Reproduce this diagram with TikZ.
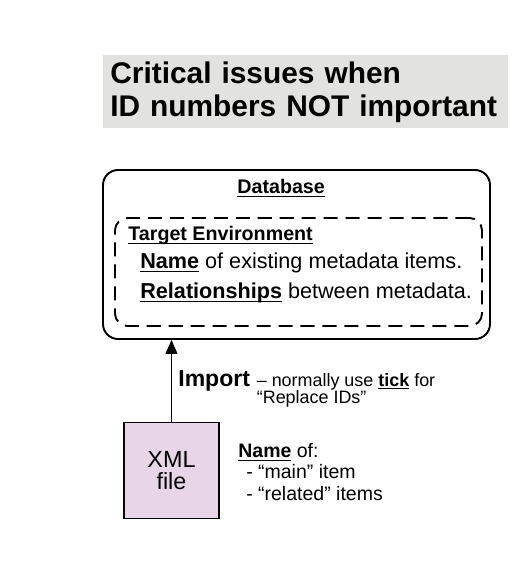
\documentclass[tikz,border=0pt]{standalone}
\usepackage{fontspec}
\setmainfont{Liberation Sans}
\usetikzlibrary{arrows.meta,positioning}
\definecolor{titlebg}{HTML}{E2E3E0}
\definecolor{xmlfill}{HTML}{E8D6E8}
\newcommand{\keyword}[1]{\underline{\smash{\textbf{#1}}}}

\begin{document}
\begin{tikzpicture}[
  dbbox/.style={draw,line width=1.1pt,rounded corners=0.3cm,minimum width=7.74cm,minimum height=3.38cm},
  envbox/.style={draw,line width=1.1pt,dash pattern=on 8pt off 4.5pt,rounded corners=0.25cm,minimum width=7.34cm,minimum height=2.16cm},
  filebox/.style={draw,line width=0.6pt,fill=xmlfill,minimum width=1.9cm,minimum height=1.92cm,align=center},
  txt/.style={anchor=base west,inner sep=0pt,align=left}
]
  \useasboundingbox (0,0) rectangle (10.34,11.42);

  % Title
  \node[fill=titlebg,anchor=north west,minimum height=1.46cm,text width=7.82cm,inner xsep=0.14cm,align=left,font=\fontsize{17}{18.8}\selectfont\bfseries] (title) at (2.06,10.32) {Critical issues when\\ID numbers NOT important};

  % Database holding the target environment
  \node[dbbox] (db) at (5.93,6.33) {};
  \node[envbox] (env) at (5.97,5.98) {};
  \node[txt,font=\fontsize{11.2}{13}\selectfont] (dbname) at (4.74,7.54) {\keyword{Database}};
  \node[txt,font=\fontsize{11.2}{13}\selectfont] (envname) at (2.56,6.60) {\keyword{Target Environment}};
  \node[txt,font=\fontsize{12.3}{14}\selectfont] (names) at (2.80,6.04) {\keyword{Name} of existing metadata items.};
  \node[txt,font=\fontsize{12.3}{14}\selectfont] (rels) at (2.80,5.44) {\keyword{Relationships} between metadata.};

  % Import of the XML file (base of a multi-line node = its last line)
  \node[filebox,font=\fontsize{13.3}{12.5}\selectfont] (xml) at (3.43,2.01) {XML\\file};
  \draw[-{Triangle[length=0.28cm,width=0.24cm]},line width=0.6pt] (xml.north) -- (xml.north |- db.south);
  \node[txt,font=\fontsize{13.1}{15}\selectfont\bfseries] (import) at (3.56,3.70) {Import};
  \node[txt,font=\fontsize{10.2}{9.6}\selectfont] (note) at (5.13,3.36) {– normally use \keyword{tick} for\\“Replace IDs”};
  \node[txt,font=\fontsize{11.1}{12}\selectfont] (content) at (4.76,1.42) {\keyword{Name} of:\\\hspace*{4.5pt}- “main” item\\\hspace*{4.5pt}- “related” items};
\end{tikzpicture}
\end{document}
